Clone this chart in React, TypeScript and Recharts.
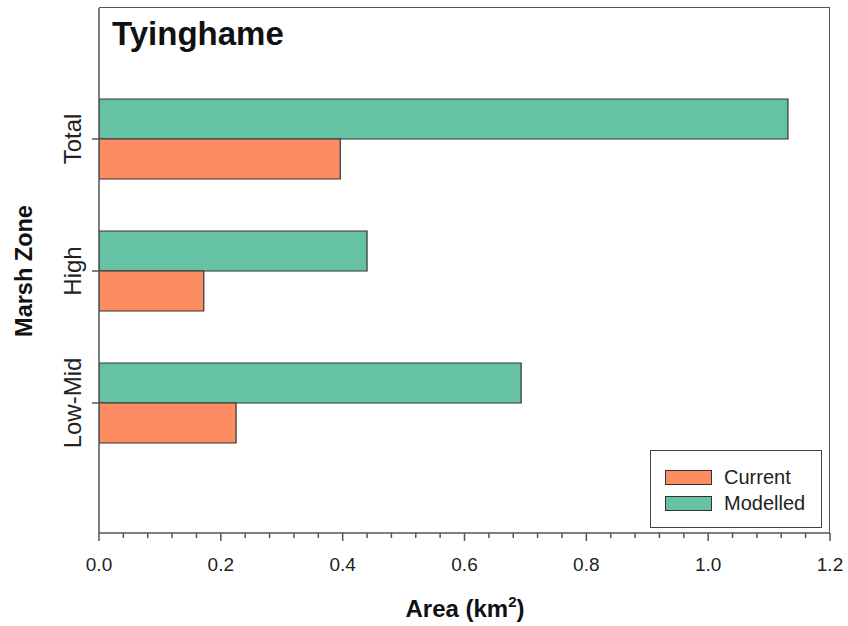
import React from 'react';
import { BarChart, Bar, XAxis, YAxis, Label } from 'recharts';

const zones = ['Total', 'High', 'Low-Mid'];
const current = [0.396, 0.172, 0.225];
const modelled = [1.131, 0.44, 0.693];

const majorTicks = [0, 0.2, 0.4, 0.6, 0.8, 1.0, 1.2];
const axisTicks = [
  0, 0.04, 0.08, 0.12, 0.16, 0.2, 0.24, 0.28, 0.32, 0.36, 0.4, 0.44, 0.48, 0.52, 0.56, 0.6,
  0.64, 0.68, 0.72, 0.76, 0.8, 0.84, 0.88, 0.92, 0.96, 1.0, 1.04, 1.08, 1.12, 1.16, 1.2
];

const data = zones.map((zone, i) => ({ zone, current: current[i], modelled: modelled[i] }));

const FONT = '"Liberation Sans", Arial, sans-serif';
const AXIS = '#555';
const CURRENT = '#fc8d62';
const MODELLED = '#66c2a5';

function XTick({ x, y, payload }: any) {
  const v = payload.value;
  const major = majorTicks.some(m => Math.abs(m - v) < 1e-6);
  return (
    <g>
      <line x1={x} x2={x} y1={y} y2={y + (major ? 8 : 5)} stroke={AXIS} strokeWidth={1.5} />
      {major && (
        <text x={x} y={y + 38} textAnchor="middle" fontSize={19} fontFamily={FONT} fill="#222">
          {v.toFixed(1)}
        </text>
      )}
    </g>
  );
}

function YTick({ x, y, payload }: any) {
  const tx = x - 18;
  return (
    <g>
      <line x1={x - 7} x2={x} y1={y} y2={y} stroke={AXIS} strokeWidth={1.5} />
      <text
        x={tx}
        y={y}
        transform={`rotate(-90, ${tx}, ${y})`}
        textAnchor="middle"
        fontSize={24}
        fontFamily={FONT}
        fill="#222"
      >
        {payload.value}
      </text>
    </g>
  );
}

export default function App() {
  return (
    <div style={{ position: 'absolute', left: 0, top: 0, width: 848, height: 626, background: '#fff' }}>
      <BarChart
        width={848}
        height={626}
        data={data}
        layout="vertical"
        margin={{ top: 8, right: 18, bottom: 0, left: 0 }}
        barGap={0}
        barSize={40}
      >
        <XAxis
          type="number"
          domain={[0, 1.2]}
          ticks={axisTicks}
          interval={0}
          tick={<XTick />}
          tickLine={false}
          tickSize={0}
          tickMargin={0}
          height={93}
          axisLine={{ stroke: AXIS, strokeWidth: 1.5 }}
          allowDataOverflow
        >
          <Label
            content={() => (
              <text x={465} y={617} textAnchor="middle" fontSize={24} fontWeight="bold" fontFamily={FONT} fill="#111">
                Area (km<tspan dy={-10} fontSize={15}>2</tspan><tspan dy={10}>)</tspan>
              </text>
            )}
          />
        </XAxis>
        <YAxis
          type="category"
          dataKey="zone"
          width={99}
          padding={{ top: 65, bottom: 64 }}
          tick={<YTick />}
          tickLine={false}
          tickSize={0}
          tickMargin={0}
          interval={0}
          axisLine={{ stroke: AXIS, strokeWidth: 1.5 }}
        >
          <Label
            content={() => (
              <text
                x={32}
                y={271}
                transform="rotate(-90, 32, 271)"
                textAnchor="middle"
                fontSize={23.5}
                fontWeight="bold"
                fontFamily={FONT}
                fill="#111"
              >
                Marsh Zone
              </text>
            )}
          />
        </YAxis>
        <Bar dataKey="modelled" fill={MODELLED} stroke="#333" strokeWidth={1.2} isAnimationActive={false} />
        <Bar dataKey="current" fill={CURRENT} stroke="#333" strokeWidth={1.2} isAnimationActive={false} />
      </BarChart>
      {/* top and right edges of the plot frame */}
      <div
        style={{
          position: 'absolute',
          left: 99,
          top: 7,
          width: 731,
          height: 526,
          borderTop: `1.5px solid ${AXIS}`,
          borderRight: `1.5px solid ${AXIS}`,
          boxSizing: 'border-box',
          pointerEvents: 'none'
        }}
      />
      <div
        style={{
          position: 'absolute',
          left: 112,
          top: 15,
          fontFamily: FONT,
          fontWeight: 'bold',
          fontSize: 33,
          lineHeight: 'normal',
          color: '#111'
        }}
      >
        Tyinghame
      </div>
      <div
        style={{
          position: 'absolute',
          left: 650,
          top: 450,
          width: 172,
          height: 78,
          border: `1.5px solid #444`,
          boxSizing: 'border-box',
          background: '#fff',
          fontFamily: FONT,
          fontSize: 20,
          color: '#222'
        }}
      >
        {[
          { name: 'Current', color: CURRENT },
          { name: 'Modelled', color: MODELLED }
        ].map((item, i) => (
          <div
            key={item.name}
            style={{ position: 'absolute', left: 14, top: 14 + i * 26, height: 24, display: 'flex', alignItems: 'center' }}
          >
            <span
              style={{
                display: 'inline-block',
                width: 47,
                height: 15,
                boxSizing: 'border-box',
                background: item.color,
                border: '1.2px solid #333',
                marginRight: 12
              }}
            />
            <span>{item.name}</span>
          </div>
        ))}
      </div>
    </div>
  );
}
